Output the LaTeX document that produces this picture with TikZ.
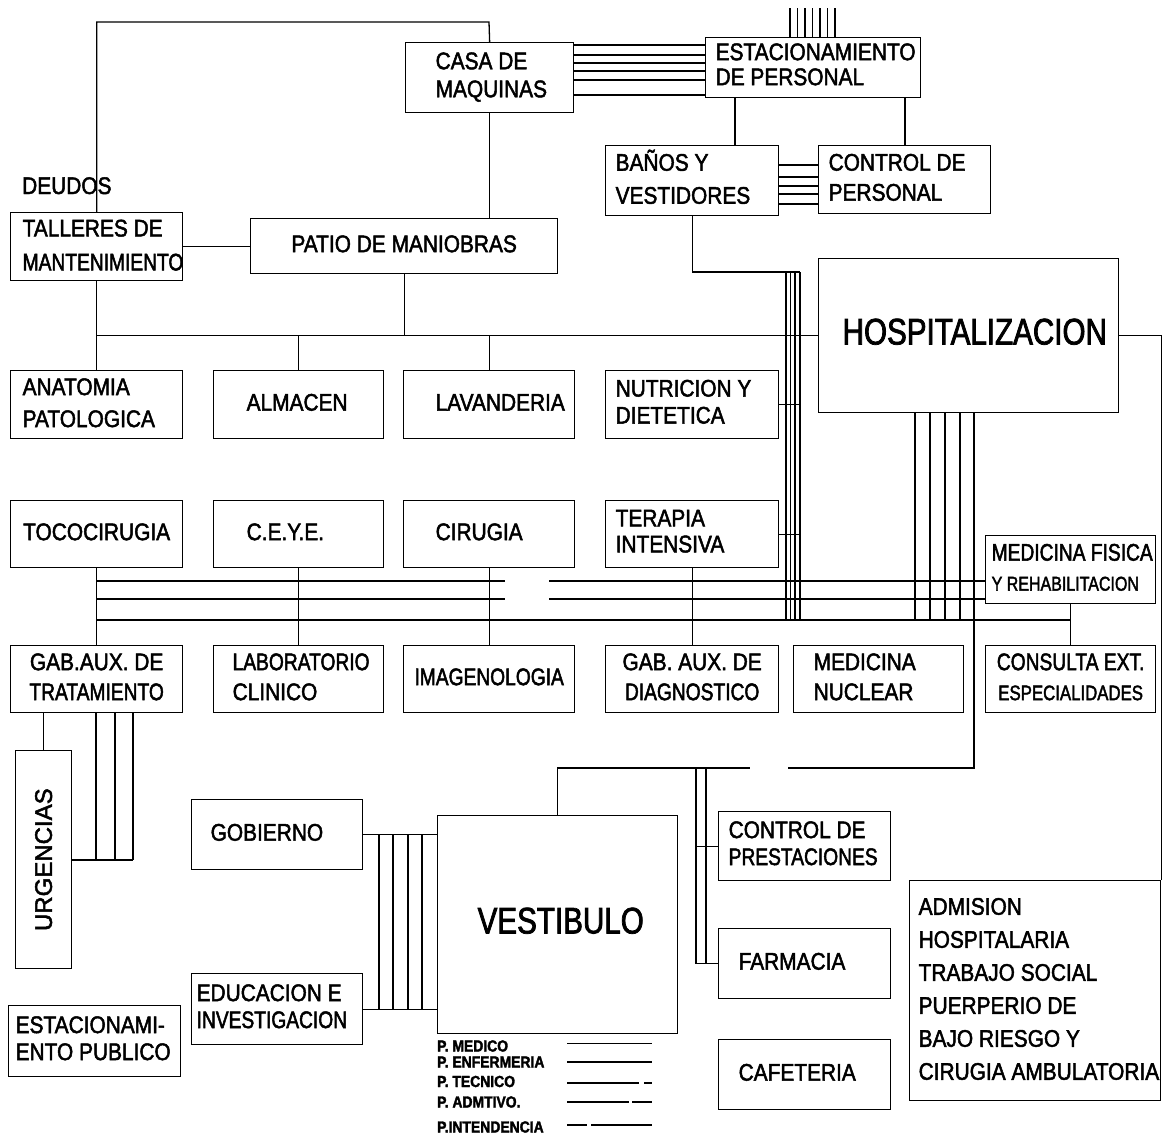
\documentclass[tikz,border=0pt]{standalone}
\usepackage{fontspec}
\usepackage{graphicx}
\setmainfont{Liberation Sans}[FakeStretch=0.87, FakeBold=2]
\newfontfamily\condfont{Liberation Sans}[FakeStretch=0.8, FakeBold=2]
\newfontfamily\tightfont{Liberation Sans}[FakeStretch=0.8, FakeBold=2]
\newfontfamily\widefont{Liberation Sans}[FakeBold=2]
\usetikzlibrary{calc}

\newcommand\lbl{\fontsize{24}{30}\selectfont}

\tikzset{
  box/.style={draw, line width=1.3pt, rectangle, inner sep=0pt, font=\lbl},
  ls/.style={font=\fontsize{24}{#1}\selectfont},
  big/.style={font=\condfont\fontsize{37}{44}\selectfont},
  wire/.style={line width=1.3pt},
  legtext/.style={font=\fontsize{16}{16}\selectfont\bfseries, anchor=base west, inner sep=0pt},
}

% room with left-aligned text: [options]{name}{x1}{y1}{x2}{y2}{left pad}{lines}
\newcommand\roomL[8][]{%
  \pgfmathsetmacro\rw{#5-#3}\pgfmathsetmacro\rh{#6-#4}%
  \node[box,#1,minimum width=\rw pt,minimum height=\rh pt,anchor=north west] (#2) at (#3,#4)
    {\makebox[\rw pt][l]{\hspace*{#7pt}\begin{tabular}{@{}l@{}}#8\end{tabular}}};}
% room with centred text: [options]{name}{x1}{y1}{x2}{y2}{lines}
\newcommand\roomC[7][]{%
  \pgfmathsetmacro\rw{#5-#3}\pgfmathsetmacro\rh{#6-#4}%
  \node[box,#1,minimum width=\rw pt,minimum height=\rh pt,anchor=north west] (#2) at (#3,#4)
    {\makebox[\rw pt][c]{\begin{tabular}{@{}c@{}}#7\end{tabular}}};}

\begin{document}
\begin{tikzpicture}[x=1pt,y=-1pt]
\useasboundingbox (0,0) rectangle (1164,1135);

% ---- rooms ----
\roomL[ls=28]{casa}{405}{42}{573}{112}{30}{CASA DE\\MAQUINAS}
\roomL[ls=25]{estac}{705}{37}{920}{97}{10}{ESTACIONAMIENTO\\DE PERSONAL}
\roomL[ls=33]{banos}{605}{145}{778}{215}{10}{BAÑOS Y\\VESTIDORES}
\roomL[ls=30]{ctrlpers}{818}{145}{990}{213}{10}{CONTROL DE\\PERSONAL}
\roomL[ls=34]{talleres}{10}{212}{182}{280}{12}{TALLERES DE\\{\tightfont MANTENIMIENTO}}
\roomC{patio}{250}{218}{557}{273}{PATIO DE MANIOBRAS}
\roomL[ls=32]{anatomia}{10}{370}{182}{438}{12}{ANATOMIA\\PATOLOGICA}
\roomL{almacen}{213}{370}{383}{438}{33}{ALMACEN}
\roomL{lavanderia}{403}{370}{574}{438}{32}{LAVANDERIA}
\roomL[ls=27]{nutricion}{605}{370}{778}{438}{10}{NUTRICION Y\\DIETETICA}
\roomL[big]{hosp}{818}{258}{1118}{412}{24}{HOSPITALIZACION}
\roomC{toco}{10}{500}{182}{567}{TOCOCIRUGIA}
\roomL{ceye}{213}{500}{383}{567}{33}{C.E.Y.E.}
\roomL{cirugia}{403}{500}{574}{567}{32}{CIRUGIA}
\roomL[ls=26]{terapia}{605}{500}{778}{567}{10}{TERAPIA\\INTENSIVA}
\roomL[ls=30]{medfis}{985}{535}{1155}{603}{6}{{\tightfont MEDICINA FISICA}\\{\tightfont\fontsize{20}{30}\selectfont Y REHABILITACION}}
\roomC{gabtrat}{10}{645}{182}{712}{GAB.AUX. DE\\{\tightfont TRATAMIENTO}}
\roomL{lab}{213}{645}{383}{712}{19}{{\tightfont LABORATORIO}\\CLINICO}
\roomC{imagen}{403}{645}{574}{712}{{\tightfont IMAGENOLOGIA}}
\roomC{gabdiag}{605}{645}{778}{712}{GAB. AUX. DE\\{\tightfont DIAGNOSTICO}}
\roomL{mednuc}{793}{645}{963}{712}{20}{MEDICINA\\NUCLEAR}
\roomC{consulta}{985}{645}{1155}{712}{{\tightfont CONSULTA EXT.}\\{\tightfont\fontsize{21}{30}\selectfont ESPECIALIDADES}}
\node[box,minimum width=56pt,minimum height=218pt,anchor=north west] (urg) at (15,750)
  {\rotatebox{90}{\widefont\fontsize{24}{30}\selectfont URGENCIAS}};
\roomL{gobierno}{191}{799}{362}{869}{19}{GOBIERNO}
\roomL[ls=27]{educ}{191}{973}{362}{1044}{5}{EDUCACION E\\{\tightfont INVESTIGACION}}
\roomL[ls=27]{estpub}{8}{1005}{180}{1076}{7}{ESTACIONAMI-\\ENTO PUBLICO}
\roomL[big]{vest}{437}{815}{677}{1033}{40}{VESTIBULO}
\roomL[ls=27]{ctrlprest}{718}{811}{890}{880}{10}{CONTROL DE\\{\tightfont PRESTACIONES}}
\roomL{farmacia}{718}{928}{890}{998}{20}{FARMACIA}
\roomL{cafeteria}{718}{1039}{890}{1109}{20}{CAFETERIA}
\roomL[ls=33]{admision}{909}{880}{1160}{1100}{9}{ADMISION\\HOSPITALARIA\\TRABAJO SOCIAL\\PUERPERIO DE\\BAJO RIESGO Y\\CIRUGIA AMBULATORIA}

\node[font=\lbl, anchor=base west, inner sep=0pt] (deudos) at (22,194) {DEUDOS};

% ---- guide coordinates ----
\coordinate (topbend) at (489,22);
\coordinate (L1) at (0,581);
\coordinate (L2) at (0,599);
\coordinate (L3) at (0,620);
\coordinate (bdl) at (800,272);
\coordinate (hospdrop) at (974,768);
\coordinate (gapR) at (788,768);
\coordinate (gapL) at (750,768);
\coordinate (urgtie) at (133,860);

% ---- service connections ----
\draw[wire] (talleres.north) |- (topbend) -- (casa.north);
\draw[wire] (talleres.east) -- (talleres.east -| patio.west);
\draw[wire] (casa.south) -- (casa.south |- patio.north);

% bus towards hospitalizacion
\draw[wire] (talleres.south) -- (anatomia.north);
\draw[wire] (talleres.south |- hosp.west) -- (hosp.west);
\draw[wire] (patio.south) -- (patio.south |- hosp.west);
\draw[wire] (almacen.north) -- (almacen.north |- hosp.west);
\draw[wire] (lavanderia.north) -- (lavanderia.north |- hosp.west);
\draw[wire] (hosp.east) -| (admision.north east);

% staff parking
\foreach \yy in {45,55,63,71,80,95}
  \draw[wire] (casa.east |- 0,\yy) -- (estac.west |- 0,\yy);
\foreach \xx in {790,797.5,805,812.5,820,827.5,835}
  \draw[wire] (\xx,8) -- (estac.north -| \xx,0);
\draw[wire] (estac.south -| 735,0) -- (banos.north -| 735,0);
\draw[wire] (estac.south -| 905,0) -- (ctrlpers.north -| 905,0);
\foreach \yy in {165,177,186,194,204}
  \draw[wire] (banos.east |- 0,\yy) -- (ctrlpers.west |- 0,\yy);

% staff bundle from vestidores
\draw[wire] (banos.south) |- (bdl);
\foreach \xx in {786,790.5,795,800}
  \draw[wire] (bdl -| \xx,0) -- (\xx,0 |- L3);
\draw[wire] (nutricion.east) -- (nutricion.east -| bdl);
\draw[wire] (terapia.east) -- (terapia.east -| bdl);

% bundle from hospitalizacion
\foreach \xx in {915,930,945,960}
  \draw[wire] (hosp.south -| \xx,0) -- (\xx,0 |- L3);
\draw[wire] (hosp.south -| hospdrop) -- (hospdrop) -- (gapR);
\draw[wire] (vest.north) -- (vest.north |- gapL) -- (gapL);
\foreach \xx in {696,706}
  \draw[wire] (gapL -| \xx,0) -- (\xx,0 |- farmacia.west);
\draw[wire] (ctrlprest.west -| 696,0) -- (ctrlprest.west);
\draw[wire] (farmacia.west -| 696,0) -- (farmacia.west);

% central corridors
\draw[wire] (toco.south) -- (gabtrat.north);
\draw[wire] (toco.south |- L1) -- (505,0 |- L1);
\draw[wire] (549,0 |- L1) -- (medfis.west |- L1);
\draw[wire] (toco.south |- L2) -- (505,0 |- L2);
\draw[wire] (549,0 |- L2) -- (medfis.west |- L2);
\draw[wire] (toco.south |- L3) -- (medfis.south |- L3);
\draw[wire] (medfis.south) -- (consulta.north);
\draw[wire] (ceye.south) -- (lab.north);
\draw[wire] (cirugia.south) -- (imagen.north);
\draw[wire] (terapia.south) -- (gabdiag.north);

% urgencias
\draw[wire] (gabtrat.south -| urg.north) -- (urg.north);
\foreach \xx in {96,115,133}
  \draw[wire] (gabtrat.south -| \xx,0) -- (\xx,0 |- urgtie);
\draw[wire] (urg.east |- urgtie) -- (urgtie);

% gobierno / educacion to vestibulo
\draw[wire] (gobierno.east) -- (gobierno.east -| vest.west);
\draw[wire] (educ.east) -- (educ.east -| vest.west);
\foreach \xx in {379,393,408,422}
  \draw[wire] (\xx,0 |- gobierno.east) -- (\xx,0 |- educ.east);

% ---- legend ----
\node[legtext] (lgmed) at (437,1051.5) {P. MEDICO};
\node[legtext] (lgenf) at (437,1067.5) {P. ENFERMERIA};
\node[legtext] (lgtec) at (437,1087) {P. TECNICO};
\node[legtext] (lgadm) at (437,1107.5) {P. ADMTIVO.};
\node[legtext] (lgint) at (437,1132.5) {P.INTENDENCIA};
\draw[wire] (567,1043.5) -- (652,1043.5);
\draw[wire] (567,1062) -- (652,1062);
\draw[wire, dash pattern=on 72pt off 5pt on 8pt off 20pt] (567,1083) -- (652,1083);
\draw[wire, dash pattern=on 62pt off 3pt on 40pt off 0pt] (567,1102) -- (652,1102);
\draw[wire, dash pattern=on 20pt off 4pt on 80pt off 0pt] (567,1125) -- (652,1125);
\end{tikzpicture}
\end{document}
